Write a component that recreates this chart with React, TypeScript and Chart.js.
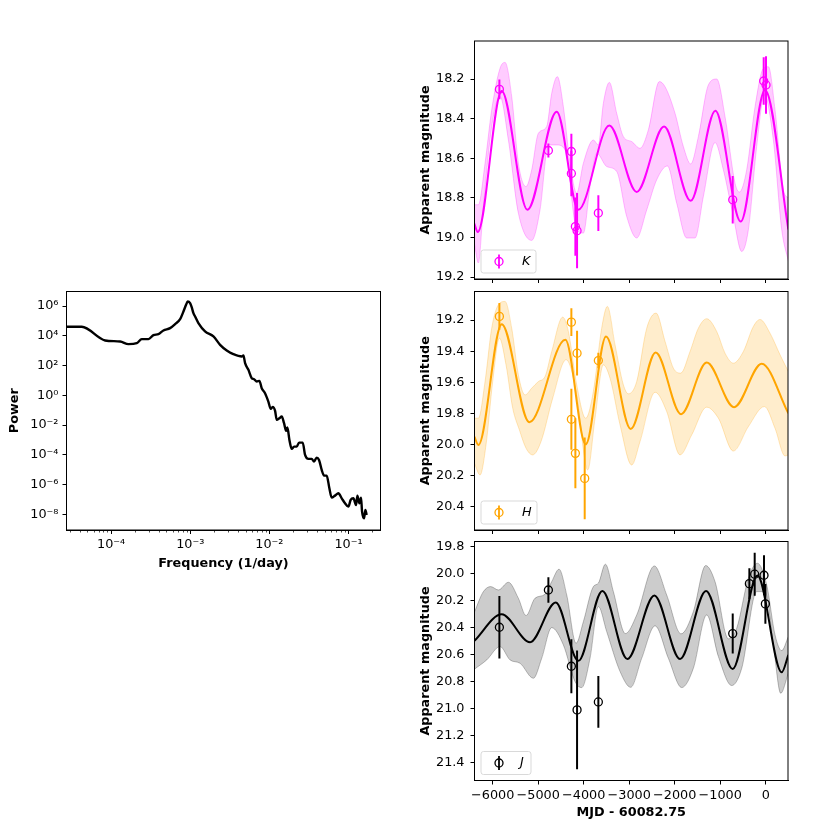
// App.tsx - periodogram plus K/H/J light curves
import React, { useEffect, useRef } from 'react';
import { Chart, registerables } from 'chart.js';

Chart.register(...registerables);

const FONT = "'DejaVu Sans'";

// power spectrum as log10 values
const psdLogFreq = [-4.564, -4.371, -4.076, -3.886, -3.781, -3.676, -3.613, -3.528, -3.465, -3.402, -3.339, -3.255, -3.192, -3.128, -3.086, -3.053, -3.032, -3.002, -2.981, -2.96, -2.939, -2.897, -2.813, -2.707, -2.623, -2.539, -2.455, -2.349, -2.328, -2.307, -2.265, -2.223, -2.194, -2.16, -2.126, -2.097, -2.055, -2.013, -1.983, -1.958, -1.928, -1.907, -1.874, -1.844, -1.815, -1.789, -1.773, -1.747, -1.718, -1.688, -1.655, -1.625, -1.579, -1.549, -1.507, -1.465, -1.436, -1.402, -1.373, -1.339, -1.309, -1.276, -1.242, -1.213, -1.171, -1.128, -1.086, -1.044, -1.002, -0.973, -0.939, -0.905, -0.888, -0.863, -0.842, -0.829, -0.804, -0.787, -0.771];
const psdLogPower = [4.609, 4.609, 3.689, 3.622, 3.442, 3.51, 3.779, 3.779, 4.048, 4.115, 4.362, 4.519, 4.788, 5.125, 5.641, 6.09, 6.314, 6.202, 5.91, 5.529, 5.3, 4.856, 4.295, 3.958, 3.397, 3.016, 2.769, 2.612, 2.679, 2.163, 1.715, 1.154, 1.086, 0.929, 0.974, 0.481, 0.144, -0.417, -0.911, -0.776, -1.045, -1.651, -1.539, -1.426, -1.875, -2.391, -2.167, -2.997, -3.603, -3.446, -3.446, -3.177, -3.177, -4.007, -4.276, -4.276, -4.456, -4.186, -4.343, -5.016, -5.398, -5.398, -6.25, -6.879, -6.744, -6.587, -6.924, -7.26, -7.484, -7.036, -6.924, -7.372, -6.744, -7.26, -6.879, -7.821, -8.27, -7.709, -8.045];
const psdXTicks = [1e-4, 1e-3, 1e-2, 1e-1];
const psdXMinor = [3e-5, 4e-5, 5e-5, 6e-5, 7e-5, 8e-5, 9e-5, 2e-4, 3e-4, 4e-4, 5e-4, 6e-4, 7e-4, 8e-4, 9e-4, 2e-3, 3e-3, 4e-3, 5e-3, 6e-3, 7e-3, 8e-3, 9e-3, 2e-2, 3e-2, 4e-2, 5e-2, 6e-2, 7e-2, 8e-2, 9e-2, 2e-1];
const psdYTicks = [1e-8, 1e-6, 1e-4, 1e-2, 1, 1e2, 1e4, 1e6];

const mjdTicks = [-6000, -5000, -4000, -3000, -2000, -1000, 0];

// K band
const kMeanX = [-6403, -6330, -5802, -5238, -4593, -4117, -3436, -2835, -2234, -1648, -1106, -549, -15, 498];
const kMeanY = [18.93, 18.973, 18.26, 18.86, 18.365, 18.86, 18.435, 18.77, 18.44, 18.815, 18.36, 18.92, 18.255, 18.96];
const kUpperX = [-6403, -6315, -6168, -6022, -5839, -5729, -5582, -5436, -5267, -5143, -4996, -4813, -4703, -4579, -4447, -4300, -4154, -4007, -3788, -3678, -3568, -3436, -3275, -3128, -2945, -2762, -2579, -2337, -2212, -1993, -1810, -1648, -1480, -1260, -1077, -894, -674, -579, -418, -234, -51, 59, 205, 388, 498];
const kUpperY = [18.835, 18.835, 18.625, 18.356, 18.146, 18.116, 18.289, 18.625, 18.743, 18.659, 18.474, 18.44, 18.272, 18.188, 18.34, 18.625, 18.776, 18.625, 18.508, 18.533, 18.323, 18.217, 18.373, 18.491, 18.516, 18.55, 18.457, 18.213, 18.239, 18.373, 18.541, 18.629, 18.491, 18.23, 18.2, 18.39, 18.726, 18.771, 18.659, 18.34, 18.146, 18.138, 18.356, 18.76, 18.802];
const kLowerX = [-6403, -6315, -6205, -6022, -5839, -5655, -5436, -5143, -4960, -4776, -4593, -4410, -4154, -4007, -3861, -3714, -3494, -3275, -3055, -2835, -2615, -2396, -2161, -1956, -1736, -1553, -1370, -1114, -930, -711, -527, -381, -198, -29, 168, 352, 498];
const kLowerY = [19.029, 19.129, 18.844, 18.44, 18.289, 18.508, 18.877, 19.015, 18.861, 18.533, 18.533, 18.558, 18.961, 18.978, 18.743, 18.575, 18.642, 18.667, 18.894, 19.003, 18.861, 18.709, 18.639, 18.827, 19.003, 19.003, 18.793, 18.521, 18.659, 18.894, 19.071, 18.961, 18.541, 18.281, 18.508, 18.961, 19.121];
const kObsX = [-5853, -4776, -4271, -4271, -4183, -4146, -3678, -725, -44, 7];
const kObsY = [18.252, 18.561, 18.566, 18.677, 18.945, 18.966, 18.877, 18.81, 18.21, 18.23];
const kObsErr = [0.05, 0.035, 0.09, 0.115, 0.147, 0.19, 0.09, 0.12, 0.12, 0.145];
const kTicks = [18.2, 18.4, 18.6, 18.8, 19.0, 19.2];

// H band
const hMeanX = [-6403, -6315, -5802, -5194, -4403, -3956, -3509, -2967, -2417, -1861, -1297, -696, -88, 498];
const hMeanY = [19.949, 20.003, 19.226, 19.857, 19.327, 19.999, 19.305, 19.9, 19.408, 19.805, 19.473, 19.76, 19.481, 19.8];
const hUpperX = [-6403, -6315, -6168, -6022, -5875, -5729, -5582, -5436, -5289, -5143, -4996, -4850, -4703, -4462, -4337, -4154, -3956, -3788, -3605, -3480, -3311, -3128, -3018, -2835, -2615, -2410, -2212, -2029, -1868, -1663, -1480, -1297, -1077, -894, -711, -491, -271, -125, 95, 315, 498];
const hUpperY = [19.831, 19.831, 19.595, 19.252, 19.101, 19.08, 19.252, 19.552, 19.681, 19.638, 19.595, 19.563, 19.402, 19.181, 19.273, 19.616, 19.831, 19.659, 19.252, 19.112, 19.359, 19.616, 19.674, 19.595, 19.252, 19.155, 19.337, 19.509, 19.541, 19.402, 19.252, 19.191, 19.273, 19.413, 19.477, 19.402, 19.241, 19.196, 19.284, 19.423, 19.531];
const hLowerX = [-6403, -6278, -6147, -6000, -5853, -5707, -5560, -5414, -5267, -5121, -4938, -4681, -4388, -4154, -3970, -3912, -3751, -3568, -3421, -3201, -2945, -2762, -2432, -2176, -1883, -1626, -1297, -1040, -711, -381, -29, 205, 425, 498];
const hLowerY = [20.121, 20.196, 20.003, 19.595, 19.316, 19.488, 19.767, 19.906, 20.024, 20.067, 19.981, 19.702, 19.455, 19.681, 20.11, 20.164, 19.831, 19.488, 19.574, 19.874, 20.132, 19.981, 19.664, 19.788, 20.067, 19.938, 19.76, 19.831, 20.042, 19.885, 19.756, 19.896, 20.074, 20.067];
const hObsX = [-5853, -4271, -4271, -4183, -4146, -3978, -3678];
const hObsY = [19.176, 19.213, 19.838, 20.057, 19.413, 20.218, 19.46];
const hObsErr = [0.086, 0.09, 0.196, 0.225, 0.144, 0.263, 0.05];
const hTicks = [19.2, 19.4, 19.6, 19.8, 20.0, 20.2, 20.4];

// J band
const jMeanX = [-6403, -5802, -5179, -4615, -4117, -3590, -3040, -2447, -1883, -1311, -725, -183, 352, 498];
const jMeanY = [20.496, 20.299, 20.506, 20.212, 20.644, 20.126, 20.63, 20.16, 20.63, 20.126, 20.704, 20.012, 20.728, 20.6];
const jUpperX = [-6403, -6205, -6044, -5875, -5655, -5436, -5267, -5070, -4850, -4703, -4542, -4373, -4168, -4007, -3788, -3678, -3524, -3348, -3084, -2835, -2447, -2176, -1861, -1590, -1319, -1114, -821, -637, -381, -183, 22, 205, 352, 498];
const jUpperY = [20.284, 20.131, 20.094, 20.119, 20.062, 20.18, 20.309, 20.18, 20.151, 20.057, 19.965, 20.156, 20.514, 20.353, 20.094, 20.069, 19.928, 20.131, 20.442, 20.304, 19.941, 20.156, 20.444, 20.279, 19.938, 20.057, 20.481, 20.402, 20.032, 19.921, 20.081, 20.452, 20.568, 20.464];
const jLowerX = [-6403, -6131, -5839, -5619, -5399, -5106, -4923, -4703, -4447, -4190, -4044, -3861, -3678, -3495, -3201, -2967, -2725, -2432, -2139, -1846, -1590, -1297, -1040, -747, -527, -198, -15, 168, 330, 498];
const jLowerY = [20.706, 20.637, 20.538, 20.637, 20.662, 20.773, 20.625, 20.398, 20.526, 20.798, 20.842, 20.625, 20.242, 20.427, 20.723, 20.84, 20.625, 20.385, 20.625, 20.842, 20.699, 20.304, 20.612, 20.827, 20.699, 20.131, 20.131, 20.526, 20.884, 20.736];
const jObsX = [-5853, -4776, -4271, -4146, -3678, -725, -359, -242, -37, -7];
const jObsY = [20.395, 20.119, 20.684, 21.007, 20.948, 20.442, 20.072, 20.002, 20.01, 20.222];
const jObsErr = [0.232, 0.094, 0.2, 0.44, 0.191, 0.148, 0.114, 0.159, 0.148, 0.147];
const jTicks = [19.8, 20.0, 20.2, 20.4, 20.6, 20.8, 21.0, 21.2, 21.4];

const zip = (xs: number[], ys: number[]) => xs.map((x, i) => ({ x, y: ys[i] }));

const superscript = (n: number) =>
  String(n).split('').map(c => ({ '-': '⁻', '0': '⁰', '1': '¹', '2': '²', '3': '³', '4': '⁴', '6': '⁶', '8': '⁸' } as any)[c]).join('');

const axisBase = {
  grid: { drawOnChartArea: false, drawTicks: true, tickLength: 4, tickColor: '#000', tickWidth: 1 },
  border: { display: true, color: '#000', width: 1 },
};
const tickFont = { family: FONT, size: 12.8 };
const titleFont = { family: FONT, size: 12.8, weight: 'bold' as const };

// box round the plot area, matplotlib style
const framePlugin = {
  id: 'frame',
  afterDraw(chart: any) {
    const { ctx, chartArea: a } = chart;
    ctx.save();
    ctx.strokeStyle = '#000';
    ctx.lineWidth = 1;
    ctx.strokeRect(a.left, a.top, a.right - a.left, a.bottom - a.top);
    ctx.restore();
  },
};

const minorTicksPlugin = {
  id: 'minorTicks',
  afterDraw(chart: any) {
    const { ctx, chartArea: a, scales } = chart;
    ctx.save();
    ctx.strokeStyle = '#000';
    ctx.lineWidth = 0.7;
    psdXMinor.forEach(v => {
      const px = Math.round(scales.x.getPixelForValue(v)) + 0.5;
      ctx.beginPath();
      ctx.moveTo(px, a.bottom);
      ctx.lineTo(px, a.bottom + 2.5);
      ctx.stroke();
    });
    ctx.restore();
  },
};

const legendPlugin = (label: string, color: string, boxW: number, textX: number) => ({
  id: 'bandLegend',
  afterDraw(chart: any) {
    const { ctx, chartArea: a } = chart;
    const left = a.left + 6.5;
    const top = a.bottom - 29;
    ctx.save();
    ctx.beginPath();
    ctx.roundRect(left, top, boxW, 23, 2.5);
    ctx.fillStyle = 'rgba(255,255,255,0.8)';
    ctx.fill();
    ctx.strokeStyle = '#d9d9d9';
    ctx.lineWidth = 1;
    ctx.stroke();
    const mx = left + 18;
    const my = top + 11.5;
    ctx.strokeStyle = color;
    ctx.lineWidth = 1.8;
    ctx.beginPath();
    ctx.moveTo(mx, my - 7);
    ctx.lineTo(mx, my + 7);
    ctx.stroke();
    ctx.lineWidth = 1.3;
    ctx.beginPath();
    ctx.arc(mx, my, 4, 0, Math.PI * 2);
    ctx.stroke();
    ctx.fillStyle = '#000';
    ctx.font = `italic 12.8px ${FONT}`;
    ctx.textBaseline = 'middle';
    ctx.fillText(label, left + textX, my);
    ctx.restore();
  },
});

interface BandProps {
  label: string;
  color: string;
  rgb: string;
  meanX: number[]; meanY: number[];
  upperX: number[]; upperY: number[];
  lowerX: number[]; lowerY: number[];
  obsX: number[]; obsY: number[]; obsErr: number[];
  ticks: number[];
  yMin: number; yMax: number;
  showX: boolean;
  canvasStyle: { left: number; top: number; width: number; height: number };
  plot: { l: number; t: number; r: number; b: number };
  legendW: number;
  legendTextX: number;
}

const BandPanel: React.FC<BandProps> = p => {
  const canvasRef = useRef<HTMLCanvasElement | null>(null);

  useEffect(() => {
    if (!canvasRef.current) return;
    const c = p.canvasStyle;
    const errorBars = p.obsX.map((x, i) => ({
      data: [{ x, y: p.obsY[i] - p.obsErr[i] }, { x, y: p.obsY[i] + p.obsErr[i] }],
      borderColor: p.color,
      borderWidth: 2,
      pointRadius: 0,
      fill: false,
      tension: 0,
    }));
    const chart = new Chart(canvasRef.current, {
      type: 'line',
      data: {
        datasets: [
          ...errorBars,
          {
            data: zip(p.obsX, p.obsY),
            showLine: false,
            pointRadius: 4,
            pointBorderWidth: 1.3,
            pointBorderColor: p.color,
            pointBackgroundColor: 'transparent',
          },
          {
            data: zip(p.meanX, p.meanY),
            borderColor: p.color,
            borderWidth: 2,
            pointRadius: 0,
            cubicInterpolationMode: 'monotone',
          },
          {
            data: zip(p.upperX, p.upperY),
            borderColor: `rgba(${p.rgb},0.25)`,
            borderWidth: 1,
            pointRadius: 0,
            cubicInterpolationMode: 'monotone',
            fill: '+1',
            backgroundColor: `rgba(${p.rgb},0.2)`,
          },
          {
            data: zip(p.lowerX, p.lowerY),
            borderColor: `rgba(${p.rgb},0.25)`,
            borderWidth: 1,
            pointRadius: 0,
            cubicInterpolationMode: 'monotone',
          },
        ] as any,
      },
      options: {
        animation: false,
        responsive: false,
        layout: { padding: { left: 0, top: p.plot.t - c.top, right: c.left + c.width - p.plot.r, bottom: 0 } },
        plugins: { legend: { display: false }, tooltip: { enabled: false } },
        scales: {
          x: {
            ...axisBase,
            type: 'linear',
            min: -6400,
            max: 490,
            afterBuildTicks: (s: any) => { s.ticks = mjdTicks.map(value => ({ value })); },
            afterFit: (s: any) => { s.height = c.top + c.height - p.plot.b; },
            ticks: {
              display: p.showX,
              font: tickFont,
              color: '#000',
              padding: 3,
              autoSkip: false,
              maxRotation: 0,
              callback: (v: any) => String(v).replace('-', '−'),
            },
            title: {
              display: p.showX,
              text: 'MJD - 60082.75',
              font: titleFont,
              color: '#000',
              padding: 0,
            },
          },
          y: {
            ...axisBase,
            type: 'linear',
            reverse: true,
            min: p.yMin,
            max: p.yMax,
            afterBuildTicks: (s: any) => { s.ticks = p.ticks.map(value => ({ value })); },
            afterFit: (s: any) => {
              s.width = p.plot.l - c.left;
              // tick padding also counts as vertical room, which would shrink the plot
              s.paddingTop = 0;
              s.paddingBottom = 0;
            },
            ticks: {
              font: tickFont,
              color: '#000',
              padding: 6,
              autoSkip: false,
              callback: (v: any) => Number(v).toFixed(1),
            },
            title: {
              display: true,
              text: 'Apparent magnitude',
              font: titleFont,
              color: '#000',
              padding: 0,
            },
          },
        },
      } as any,
      plugins: [framePlugin, legendPlugin(p.label, p.color, p.legendW, p.legendTextX)],
    });

    return () => {
      chart.destroy();
    };
  }, []);

  const c = p.canvasStyle;
  return (
    <canvas
      ref={canvasRef}
      width={c.width}
      height={c.height}
      style={{ position: 'absolute', left: c.left, top: c.top, width: c.width, height: c.height }}
    />
  );
};

const PsdPanel: React.FC = () => {
  const canvasRef = useRef<HTMLCanvasElement | null>(null);
  const c = { left: 7, top: 280, width: 401, height: 291 };
  const plot = { l: 66.5, t: 291.5, r: 380.5, b: 530 };

  useEffect(() => {
    if (!canvasRef.current) return;
    const chart = new Chart(canvasRef.current, {
      type: 'line',
      data: {
        datasets: [{
          data: psdLogFreq.map((f, i) => ({ x: 10 ** f, y: 10 ** psdLogPower[i] })),
          borderColor: '#000',
          borderWidth: 2.4,
          pointRadius: 0,
          cubicInterpolationMode: 'monotone',
        }],
      },
      options: {
        animation: false,
        responsive: false,
        layout: { padding: { left: 0, top: plot.t - c.top, right: c.left + c.width - plot.r, bottom: 0 } },
        plugins: { legend: { display: false }, tooltip: { enabled: false } },
        scales: {
          x: {
            ...axisBase,
            type: 'logarithmic',
            min: 2.73e-5,
            max: 0.2535,
            afterBuildTicks: (s: any) => { s.ticks = psdXTicks.map(value => ({ value })); },
            afterFit: (s: any) => { s.height = c.top + c.height - plot.b; },
            ticks: {
              font: tickFont,
              color: '#000',
              padding: 3,
              autoSkip: false,
              maxRotation: 0,
              callback: (v: any) => '10' + superscript(Math.round(Math.log10(v))),
            },
            title: { display: true, text: 'Frequency (1/day)', font: titleFont, color: '#000', padding: 0 },
          },
          y: {
            ...axisBase,
            type: 'logarithmic',
            min: 8.8e-10,
            max: 9.6e6,
            afterBuildTicks: (s: any) => { s.ticks = psdYTicks.map(value => ({ value })); },
            afterFit: (s: any) => {
              s.width = plot.l - c.left;
              s.paddingTop = 0;
              s.paddingBottom = 0;
            },
            ticks: {
              font: tickFont,
              color: '#000',
              padding: 4,
              autoSkip: false,
              callback: (v: any) => '10' + superscript(Math.round(Math.log10(v))),
            },
            title: { display: true, text: 'Power', font: titleFont, color: '#000', padding: 0 },
          },
        },
      } as any,
      plugins: [framePlugin, minorTicksPlugin],
    });

    return () => {
      chart.destroy();
    };
  }, []);

  return (
    <canvas
      ref={canvasRef}
      width={c.width}
      height={c.height}
      style={{ position: 'absolute', left: c.left, top: c.top, width: c.width, height: c.height }}
    />
  );
};

const App: React.FC = () => (
  <div>
    <PsdPanel />
    <BandPanel
      label="K" color="#ff00ff" rgb="255,0,255"
      meanX={kMeanX} meanY={kMeanY} upperX={kUpperX} upperY={kUpperY} lowerX={kLowerX} lowerY={kLowerY}
      obsX={kObsX} obsY={kObsY} obsErr={kObsErr} ticks={kTicks}
      yMin={18.008} yMax={19.21} showX={false}
      canvasStyle={{ left: 418, top: 30, width: 382, height: 260 }}
      plot={{ l: 474.5, t: 41, r: 788, b: 279 }}
      legendW={55} legendTextX={41}
    />
    <BandPanel
      label="H" color="#ffa500" rgb="255,165,0"
      meanX={hMeanX} meanY={hMeanY} upperX={hUpperX} upperY={hUpperY} lowerX={hLowerX} lowerY={hLowerY}
      obsX={hObsX} obsY={hObsY} obsErr={hObsErr} ticks={hTicks}
      yMin={19.016} yMax={20.55} showX={false}
      canvasStyle={{ left: 418, top: 281, width: 382, height: 258 }}
      plot={{ l: 474.5, t: 291.5, r: 788, b: 530 }}
      legendW={56} legendTextX={41}
    />
    <BandPanel
      label="J" color="#000000" rgb="0,0,0"
      meanX={jMeanX} meanY={jMeanY} upperX={jUpperX} upperY={jUpperY} lowerX={jLowerX} lowerY={jLowerY}
      obsX={jObsX} obsY={jObsY} obsErr={jObsErr} ticks={jTicks}
      yMin={19.76} yMax={21.53} showX={true}
      canvasStyle={{ left: 418, top: 532, width: 382, height: 288 }}
      plot={{ l: 474.5, t: 541.5, r: 788, b: 780.5 }}
      legendW={50} legendTextX={39}
    />
  </div>
);

export default App;
